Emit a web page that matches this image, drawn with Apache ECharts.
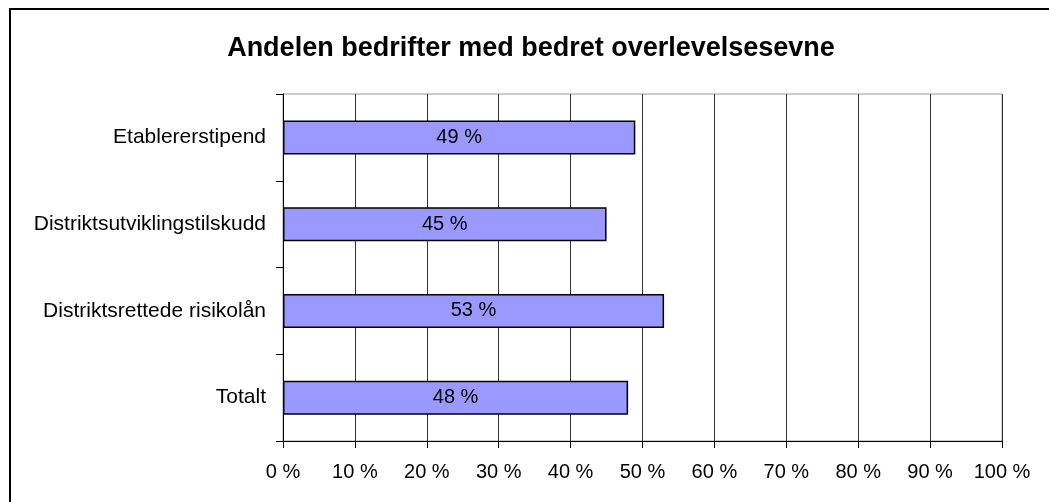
<!DOCTYPE html>
<html>
<head>
<meta charset="utf-8">
<script src="https://cdn.jsdelivr.net/npm/echarts@6/dist/echarts.min.js"></script>
<style>
html,body{margin:0;padding:0;background:#fff;}
#chart{width:1049px;height:502px;}
</style>
</head>
<body>
<div id="chart"></div>
<script>
const titleText = 'Andelen bedrifter med bedret overlevelsesevne';
const categories = ['Etablererstipend', 'Distriktsutviklingstilskudd', 'Distriktsrettede risikolån', 'Totalt'];
const values = [49, 45, 53, 48];
const xTicks = [0, 10, 20, 30, 40, 50, 60, 70, 80, 90, 100];

const chart = echarts.init(document.getElementById('chart'), null, {renderer: 'canvas'});
const font = 'Arial, "Liberation Sans", sans-serif';
chart.setOption({
  animation: false,
  backgroundColor: '#fff',
  title: {
    text: titleText,
    left: 526,
    textAlign: 'center',
    top: 30,
    textStyle: {fontFamily: font, fontSize: 27, fontWeight: 'bold', color: '#000'}
  },
  graphic: [{
    type: 'rect',
    shape: {x: 10, y: 9, width: 1080, height: 540},
    style: {fill: 'none', stroke: '#000', lineWidth: 2},
    silent: true
  }],
  grid: {
    left: 283, right: 47, top: 94, bottom: 61,
    show: true, borderColor: '#999', borderWidth: 1, backgroundColor: 'transparent'
  },
  xAxis: {
    type: 'value',
    min: xTicks[0],
    max: xTicks[xTicks.length - 1],
    interval: 10,
    axisLine: {show: true, lineStyle: {color: '#000', width: 1}},
    axisTick: {show: true, length: 7, lineStyle: {color: '#000'}},
    splitLine: {show: true, lineStyle: {color: '#333', width: 1}},
    axisLabel: {
      margin: 21,
      fontFamily: font, fontSize: 20, color: '#000',
      formatter: v => v + ' %'
    }
  },
  yAxis: {
    type: 'category',
    data: categories,
    inverse: true,
    axisLine: {show: true, lineStyle: {color: '#000', width: 1}},
    axisTick: {show: true, length: 7, lineStyle: {color: '#000'}},
    splitLine: {show: false},
    axisLabel: {margin: 17, fontFamily: font, fontSize: 21, color: '#000'}
  },
  series: [{
    type: 'bar',
    data: values,
    barWidth: 34,
    itemStyle: {color: '#9999FF', borderColor: '#000', borderWidth: 1.5},
    label: {
      show: true, position: 'inside',
      fontFamily: font, fontSize: 20, color: '#000',
      formatter: p => p.value + ' %'
    }
  }]
});
</script>
</body>
</html>
